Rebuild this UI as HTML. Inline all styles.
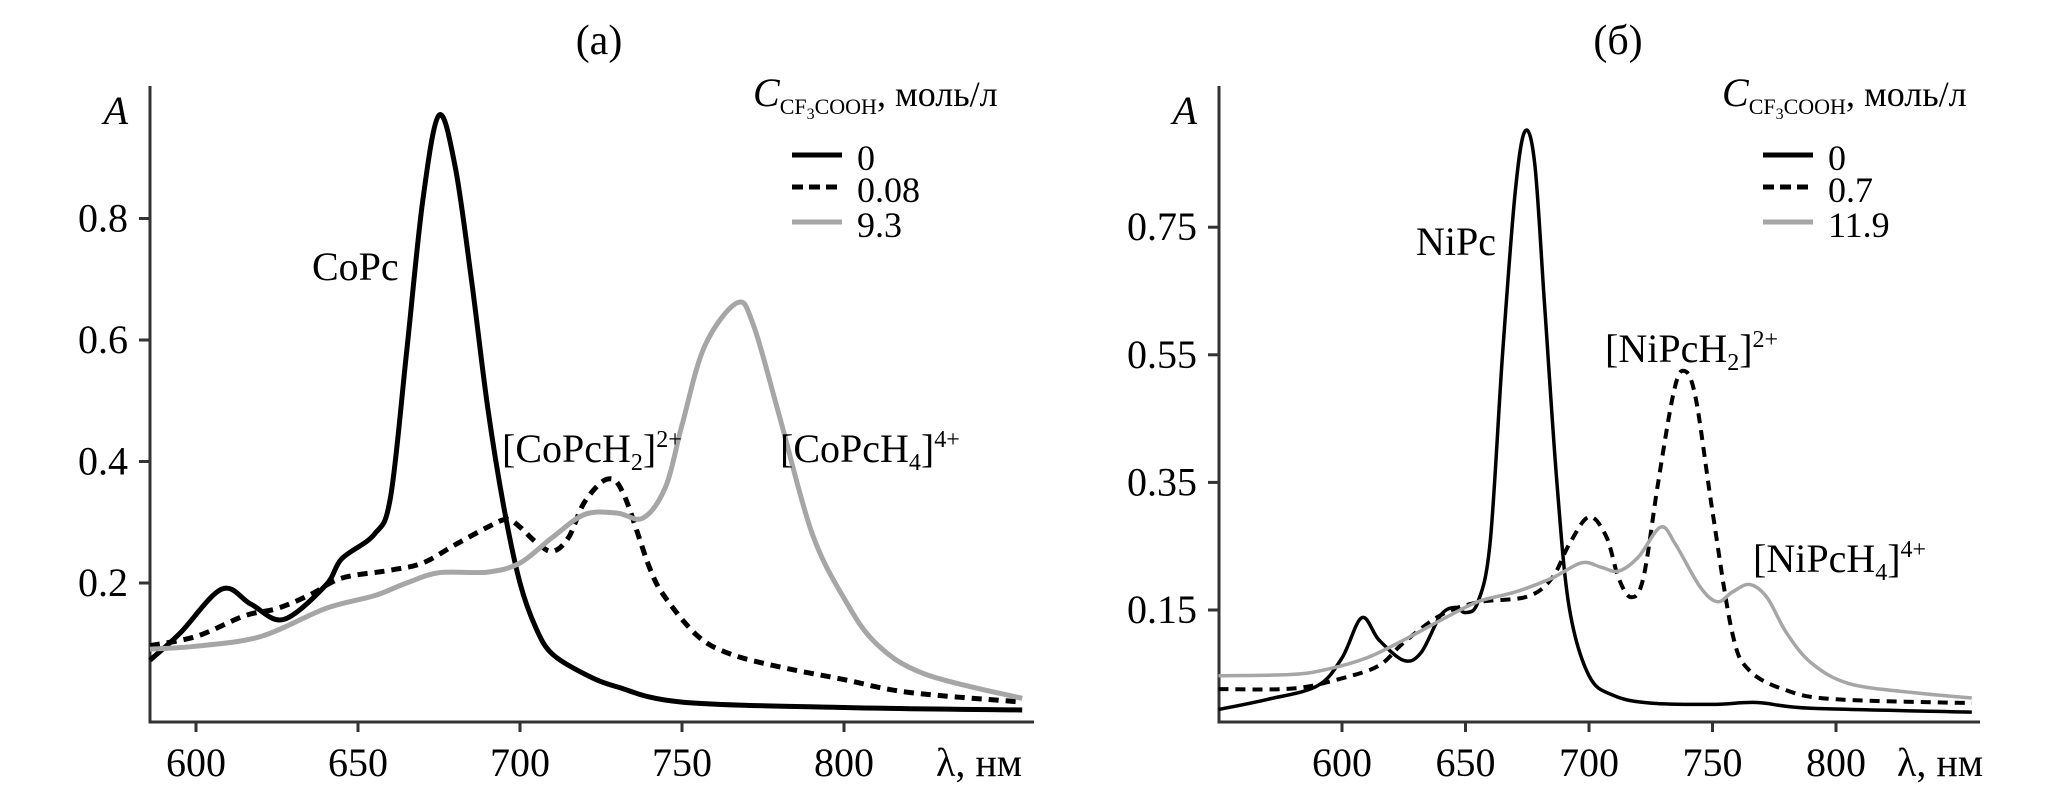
<!DOCTYPE html>
<html><head><meta charset="utf-8">
<style>
html,body{margin:0;padding:0;background:#fff;}
svg{display:block;}
svg text{font-family:"Liberation Serif","DejaVu Serif",serif;}
</style></head>
<body>
<svg id="chart" width="2067" height="794" viewBox="0 0 2067 794" xmlns="http://www.w3.org/2000/svg">
<g id="pa"></g>
<g id="pb"></g>
</svg>
<script>
// ---- Panel (a) data: CoPc ----
const aNm0 = [585.8,595,608,617,627,640,645,655,660,665,670,675,680,685,690,695,700,705,710,720,730,750,800,855];
const aA0  = [0.073,0.117,0.19,0.165,0.14,0.196,0.24,0.28,0.34,0.58,0.83,0.97,0.885,0.70,0.49,0.325,0.2,0.125,0.083,0.05,0.029,0.004,-0.005,-0.009];
const aNm1 = [585.8,600,615,625,635,645,660,670,680,690,696,700,705,710,715,720,727,732,740,745,755,765,780,800,820,855];
const aA1  = [0.097,0.112,0.146,0.158,0.18,0.208,0.221,0.233,0.263,0.292,0.305,0.292,0.267,0.252,0.275,0.334,0.371,0.346,0.225,0.175,0.112,0.083,0.062,0.041,0.02,0.004];
const aNm2 = [585.8,600,620,640,655,665,675,690,700,710,720,730,738,745,750,757,767,772,780,790,800,810,825,855];
const aA2  = [0.091,0.096,0.112,0.158,0.179,0.2,0.217,0.218,0.233,0.275,0.313,0.315,0.307,0.359,0.46,0.59,0.661,0.625,0.476,0.284,0.175,0.1,0.05,0.01];
const aXTicks = [600,650,700,750,800];
const aYTicks = [0.2,0.4,0.6,0.8];
const aYLabels = ["0.2","0.4","0.6","0.8"];
const aLegend = ["0","0.08","9.3"];

// ---- Panel (б) data: NiPc ----
const bNm0 = [550,570,590,600,608,615,625,632,640,646,650,655,660,665,670,674,678,682,687,692,700,710,725,750,768,790,855];
const bA0  = [-0.006,0.01,0.031,0.075,0.138,0.103,0.071,0.083,0.142,0.154,0.146,0.162,0.257,0.55,0.80,0.90,0.85,0.63,0.35,0.154,0.047,0.016,0.004,0.002,0.005,-0.004,-0.01];
const bNm1 = [550,580,600,615,625,640,655,675,685,692,700,707,712,717,722,728,734,738,743,750,758,765,780,800,855];
const bA1  = [0.026,0.027,0.043,0.063,0.099,0.142,0.162,0.171,0.2,0.253,0.296,0.265,0.2,0.17,0.2,0.35,0.486,0.525,0.486,0.304,0.114,0.055,0.024,0.01,0.004];
const bNm2 = [550,580,595,610,625,640,655,670,685,697,705,712,720,729,735,745,752,758,765,772,780,790,805,830,855];
const bA2  = [0.047,0.049,0.058,0.075,0.103,0.134,0.163,0.178,0.2,0.224,0.217,0.211,0.233,0.28,0.253,0.186,0.163,0.178,0.19,0.17,0.114,0.067,0.035,0.021,0.012];
const bXTicks = [600,650,700,750,800];
const bYTicks = [0.15,0.35,0.55,0.75];
const bYLabels = ["0.15","0.35","0.55","0.75"];
const bLegend = ["0","0.7","11.9"];

const NS = "http://www.w3.org/2000/svg";
const FF = '"Liberation Serif", "DejaVu Serif", serif';
function mk(tag, attrs, parent){
  const e = document.createElementNS(NS, tag);
  for (const k in attrs) e.setAttribute(k, attrs[k]);
  if (tag === "text") e.setAttribute("font-family", FF);
  parent.appendChild(e);
  return e;
}
function smoothPath(pts){
  let d = "M" + pts[0][0].toFixed(1) + "," + pts[0][1].toFixed(1);
  for (let i = 0; i < pts.length - 1; i++){
    const p0 = pts[Math.max(0,i-1)], p1 = pts[i], p2 = pts[i+1], p3 = pts[Math.min(pts.length-1,i+2)];
    const c1x = p1[0] + (p2[0]-p0[0])/6, c1y = p1[1] + (p2[1]-p0[1])/6;
    const c2x = p2[0] - (p3[0]-p1[0])/6, c2y = p2[1] - (p3[1]-p1[1])/6;
    d += " C" + c1x.toFixed(1)+","+c1y.toFixed(1)+" "+c2x.toFixed(1)+","+c2y.toFixed(1)+" "+p2[0].toFixed(1)+","+p2[1].toFixed(1);
  }
  return d;
}

function panel(g, cfg){
  const xS = nm => cfg.x600 + (nm-600)*cfg.pxPerNm;
  const yS = a => cfg.y0 - a*cfg.pxPerA;
  const t = mk("text", {x: cfg.titleX, y: 54, "font-size": 42, "text-anchor": "middle"}, g);
  
  
  t.textContent = cfg.title;
  const ya = mk("line", {x1: cfg.axX, y1: 86, x2: cfg.axX, y2: 723, stroke: "#333", "stroke-width": 3}, g);
  
  
  const xa = mk("line", {x1: cfg.axX-1.5, y1: 722, x2: cfg.axEnd, y2: 722, stroke: "#333", "stroke-width": 3}, g);
  
  
  const al = mk("text", {x: cfg.axX-22, y: 124, "font-size": 40, "font-style": "italic", "text-anchor": "end"}, g);
  
  
  al.textContent = "A";
  cfg.yTicks.forEach((v,i) => {
    const y = yS(v);
    const tk = mk("line", {x1: cfg.axX-11, y1: y, x2: cfg.axX, y2: y, stroke: "#333", "stroke-width": 3}, g);
    
    
    const tl = mk("text", {x: cfg.axX-22, y: y+13, "font-size": 40, "text-anchor": "end"}, g);
    
    
    tl.textContent = cfg.yLabels[i];
  });
  cfg.xTicks.forEach(v => {
    const x = xS(v);
    const tk = mk("line", {x1: x, y1: 722, x2: x, y2: 732, stroke: "#333", "stroke-width": 3}, g);
    
    
    const tl = mk("text", {x: x, y: 776, "font-size": 40, "text-anchor": "middle"}, g);
    
    
    tl.textContent = String(v);
  });
  const xt = mk("text", {x: cfg.xTitleX, y: 776, "font-size": 40}, g);
  
  
  xt.textContent = "λ, нм";
  const styles = [
    {stroke: "#000", dash: null, name: "series-0"},
    {stroke: "#000", dash: "10 7", name: "series-acid-low"},
    {stroke: "#a6a6a6", dash: null, name: "series-acid-high"}
  ];
  cfg.series.forEach((s, i) => {
    const pts = s[0].map((nm, j) => [xS(nm), yS(s[1][j])]);
    const p = mk("path", {d: smoothPath(pts), fill: "none", stroke: styles[i].stroke, "stroke-width": cfg.lw[i], "stroke-linejoin": "round"}, g);
    if (styles[i].dash) p.setAttribute("stroke-dasharray", styles[i].dash);
    
    
  });
  const lt = mk("text", {x: cfg.legX, y: 106, "font-size": 36}, g);
  
  
  lt.innerHTML = '<tspan font-style="italic" font-size="40">C</tspan><tspan font-size="22" dy="8">CF</tspan><tspan font-size="16" dy="5">3</tspan><tspan font-size="22" dy="-5">COOH</tspan><tspan dy="-8">, моль/л</tspan>';
  const rowsY = [155, 187, 222];
  cfg.legend.forEach((lab, i) => {
    const ln = mk("line", {x1: cfg.legLineX, y1: rowsY[i], x2: cfg.legLineX+50, y2: rowsY[i], stroke: styles[i].stroke, "stroke-width": 5}, g);
    if (styles[i].dash) ln.setAttribute("stroke-dasharray", "11 6");
    
    
    const tx = mk("text", {x: cfg.legLineX+65, y: rowsY[i]+15, "font-size": 36}, g);
    
    
    tx.textContent = lab;
  });
  cfg.labels.forEach(L => {
    const tx = mk("text", {x: L.x, y: L.y, "font-size": 40}, g);
    
    
    tx.innerHTML = L.html;
  });
}

panel(document.getElementById("pa"), {
  title: "(a)", titleX: 599, axX: 150, axEnd: 1034, x600: 196, pxPerNm: 3.24, y0: 704.5, pxPerA: 607.5,
  xTitleX: 936, xTicks: aXTicks, yTicks: aYTicks, yLabels: aYLabels,
  series: [[aNm0,aA0],[aNm1,aA1],[aNm2,aA2]], lw: [5,5,5],
  legX: 753, legLineX: 792, legend: aLegend,
  labels: [
    {x: 312, y: 280, html: "CoPc"},
    {x: 502, y: 462, html: '[CoPcH<tspan font-size="24" dy="8">2</tspan><tspan dy="-8">]</tspan><tspan font-size="24" dy="-15">2+</tspan>'},
    {x: 780, y: 462, html: '[CoPcH<tspan font-size="24" dy="8">4</tspan><tspan dy="-8">]</tspan><tspan font-size="24" dy="-15">4+</tspan>'}
  ]
});
panel(document.getElementById("pb"), {
  title: "(б)", titleX: 1618, axX: 1219, axEnd: 1980, x600: 1342, pxPerNm: 2.47, y0: 705.7, pxPerA: 638,
  xTitleX: 1897, xTicks: bXTicks, yTicks: bYTicks, yLabels: bYLabels,
  series: [[bNm0,bA0],[bNm1,bA1],[bNm2,bA2]], lw: [3.5,4,3.5],
  legX: 1722, legLineX: 1763, legend: bLegend,
  labels: [
    {x: 1416, y: 255, html: "NiPc"},
    {x: 1605, y: 362, html: '[NiPcH<tspan font-size="24" dy="8">2</tspan><tspan dy="-8">]</tspan><tspan font-size="24" dy="-15">2+</tspan>'},
    {x: 1753, y: 572, html: '[NiPcH<tspan font-size="24" dy="8">4</tspan><tspan dy="-8">]</tspan><tspan font-size="24" dy="-15">4+</tspan>'}
  ]
});
</script>
</body></html>
